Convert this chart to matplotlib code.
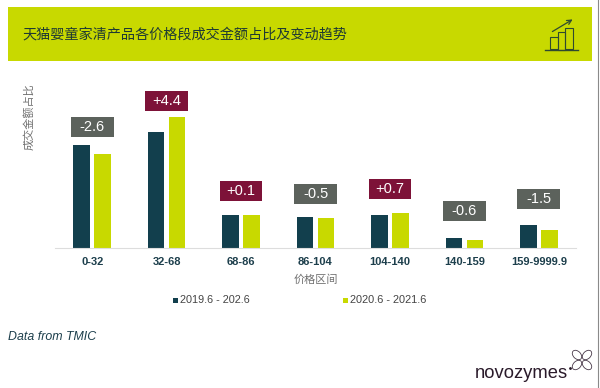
import numpy as np
import matplotlib
matplotlib.use('Agg')
import matplotlib.pyplot as plt
from matplotlib.patches import Rectangle, Ellipse

plt.rcParams['font.family'] = ['Noto Sans CJK SC', 'DejaVu Sans']

categories = ['0-32', '32-68', '68-86', '86-104', '104-140', '140-159', '159-9999.9']
series1 = [30.1, 33.9, 9.5, 9.1, 9.5, 2.8, 6.6]
series2 = [27.5, 38.3, 9.6, 8.6, 10.2, 2.2, 5.1]
changes = ['-2.6', '+4.4', '+0.1', '-0.5', '+0.7', '-0.6', '-1.5']
legend_labels = ['2019.6 - 202.6', '2020.6 - 2021.6']

dark = '#123f4d'
lime = '#c8d900'
wine = '#7d1238'
grey = '#5c625c'

# gap between the taller bar and its box, in pixels
box_gaps = [8.6, 6.4, 13.7, 12.4, 13.7, 17, 16.6]

W, H = 600, 388
fig = plt.figure(figsize=(6, 3.88), dpi=100)

# everything outside the plot is placed in pixels
bg = fig.add_axes([0, 0, 1, 1])
bg.set_xlim(0, W)
bg.set_ylim(H, 0)
bg.axis('off')

bg.add_patch(Rectangle((7.5, 6.7), 584, 54.3, color=lime, lw=0))
bg.text(22, 35, '天猫婴童家清产品各价格段成交金额占比及变动趋势', fontsize=10.2,
        color='#1f3a33', va='center', ha='left')

# little chart icon
ic = '#2f4a30'
bg.plot([545, 578], [49.5, 49.5], color=ic, lw=1)
for x0, top in zip([550, 557.5, 565], [36.7, 32.3, 27.7]):
    bg.add_patch(Rectangle((x0, top), 7.5, 49.5 - top, fill=False, ec=ic, lw=0.8))
bg.annotate('', xy=(575, 18), xytext=(550, 33),
            arrowprops=dict(arrowstyle='->', color=ic, lw=0.9, mutation_scale=8))

bg.plot([598, 598], [0, H], color='#8a8a8a', lw=0.8)

ax = fig.add_axes([55 / W, 1 - 247.7 / H, 521 / W, 170 / H])
ax.patch.set_alpha(0)
x = np.arange(len(categories))
px = 3.4  # pixels per unit
cat_w = 521 / 7
ax.set_xlim(-0.5, 6.5)
ax.set_ylim(0, 170 / px)
ax.bar(x - 0.141, series1, 0.223, color=dark)
ax.bar(x + 0.141, series2, 0.223, color=lime)

box_w = 42.7 / cat_w
box_h = 20 / px
for i, ch in enumerate(changes):
    y0 = max(series1[i], series2[i]) + box_gaps[i] / px
    ax.add_patch(Rectangle((x[i] - box_w / 2, y0), box_w, box_h, clip_on=False, lw=0,
                           color=wine if ch[0] == '+' else grey))
    ax.text(x[i], y0 + box_h / 2, ch, ha='center', va='center', color='white', fontsize=10.5,
            family='Liberation Sans', clip_on=False)

for s in ['top', 'left', 'right']:
    ax.spines[s].set_visible(False)
ax.spines['bottom'].set_color('#dddddd')
ax.set_yticks([])
ax.set_xticks(x)
ax.set_xticklabels(categories, fontsize=8, fontweight='bold', color='#1d3f4c', family='Liberation Sans')
ax.tick_params(axis='x', length=0, pad=7)

bg.text(315.5, 280, '价格区间', fontsize=8, color='#707070', ha='center', va='center')
bg.text(29.5, 117, '成交金额占比', fontsize=8, color='#707070', rotation=90, ha='center', va='center')

bg.add_patch(Rectangle((172.5, 297.5), 5, 5, color=dark, lw=0))
bg.text(180.5, 300, legend_labels[0], fontsize=7.8, color='#444444', va='center', family='Liberation Sans')
bg.add_patch(Rectangle((342.5, 297.5), 5, 5, color=lime, lw=0))
bg.text(350.5, 300, legend_labels[1], fontsize=7.9, color='#444444', va='center', family='Liberation Sans')

bg.text(8, 337, 'Data from TMIC', fontsize=8.9, style='italic', color='#1d3f4c', va='center',
        family='Liberation Sans')

bg.text(475, 373, 'novozymes', fontsize=13.2, color='#2a1a2a', va='center', family='Liberation Sans')
bg.plot([570], [368], marker='o', ms=1, color='#2a1a2a')
# clover mark
for ang, dx, dy in [(-45, 5, -5), (45, 5, 5), (-45, -5, 5), (45, -5, -5)]:
    bg.add_patch(Ellipse((582 + dx, 360 + dy), 11, 7.5, angle=ang, fill=False, ec='#4a3a4a', lw=0.6))

fig.savefig('out.png', dpi=100)
